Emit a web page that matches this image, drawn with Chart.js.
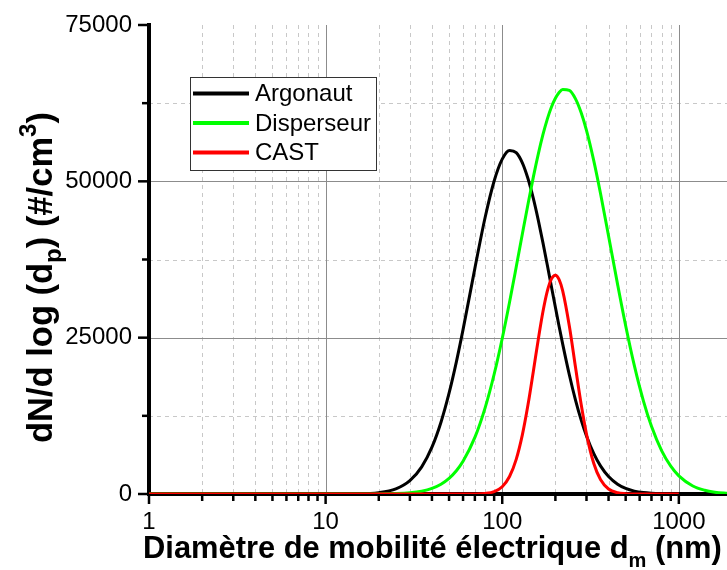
<!DOCTYPE html>
<html>
<head>
<meta charset="utf-8">
<script src="https://cdn.jsdelivr.net/npm/chart.js@4"></script>
<style>
  html, body { margin: 0; padding: 0; background: #fff; overflow: hidden; }
  canvas { display: block; }
</style>
</head>
<body>
<canvas id="chart-sizes" width="740" height="570"></canvas>
<script>
// particle diameters (nm) shared by the three size distributions
const diameters = [1, 5, 10, 15, 20, 25, 30, 35, 40, 45, 50, 55, 60, 70, 80, 90, 100, 110, 120, 130,
    140, 150, 160, 170, 180, 190, 200, 210, 220, 240, 260, 280, 300, 330, 360, 400, 450, 500, 560,
    630, 700, 800, 900, 1000, 1200, 1400, 1600, 1800, 2000];

// dN/dlog(dp) in #/cm3 (Argonaut and CAST stop at 1000 nm)
const argonaut = [0, 0, 0, 29, 213, 813, 2120, 4334, 7487, 11485, 16120, 21136, 26285, 36080, 44210,
    50056, 53554, 54940, 54600, 52963, 50408, 47260, 43790, 40200, 36610, 33140, 29865, 26796, 23964,
    19036, 15020, 11808, 9278, 6446, 4492, 2791, 1564, 890, 465, 225, 112, 44, 18, 8];
const disperseur = [0, 0, 0, 2, 15, 65, 193, 452, 895, 1569, 2505, 3724, 5230, 9046, 13783, 19148,
    24870, 30663, 36288, 41569, 46390, 50674, 54361, 57450, 59953, 61890, 63290, 64210, 64696, 64539,
    63183, 60957, 58145, 53266, 48082, 41265, 33521, 26911, 20522, 14904, 10822, 6895, 4447, 2902,
    1287, 603, 295, 151, 80];
const cast = [0, 0, 0, 0, 0, 0, 0, 0, 0, 0, 0, 0, 1, 14, 91, 381, 1164, 2793, 5541, 9450, 14294,
    19590, 24720, 29141, 32452, 34410, 35000, 34300, 32490, 26830, 20265, 14295, 9580, 4870, 2320,
    806, 201, 49, 9, 0, 0, 0, 0, 0];

// axis ticks
const xTickValues = [1, 10, 100, 1000];
const yTickValues = [0, 25000, 50000, 75000];
const yMinorValues = [12500, 37500, 62500];

const FONT = "Arial, 'Liberation Sans', sans-serif";

function toPoints(values) {
    return values.map((v, i) => ({ x: diameters[i], y: v }));
}

// minor x positions: 2..9 in every decade
function xMinorValues(max) {
    let out = [];
    for (let d = 1; d < max; d *= 10) {
        for (let m = 2; m <= 9; m++) {
            if (d * m <= max) out.push(d * m);
        }
    }
    return out;
}

function line(ctx, x1, y1, x2, y2) {
    ctx.beginPath();
    ctx.moveTo(x1, y1);
    ctx.lineTo(x2, y2);
    ctx.stroke();
}

// grid, axis lines and tick marks, under the curves
const gridAxes = {
    id: 'gridAxes',
    beforeDatasetsDraw(chart) {
        const { ctx, chartArea: a, scales: { x, y } } = chart;
        ctx.save();

        ctx.lineWidth = 1;
        ctx.strokeStyle = '#c8c8c8';
        ctx.setLineDash([4, 4]);
        xMinorValues(2000).forEach(v => {
            const px = Math.round(x.getPixelForValue(v)) + 0.5;
            line(ctx, px, a.top, px, a.bottom);
        });
        yMinorValues.forEach(v => {
            const py = Math.round(y.getPixelForValue(v)) + 0.5;
            line(ctx, a.left, py, a.right, py);
        });

        ctx.setLineDash([]);
        ctx.strokeStyle = '#8c8c8c';
        xTickValues.slice(1).forEach(v => {
            const px = Math.round(x.getPixelForValue(v)) + 0.5;
            line(ctx, px, a.top, px, a.bottom);
        });
        yTickValues.slice(1, -1).forEach(v => {
            const py = Math.round(y.getPixelForValue(v)) + 0.5;
            line(ctx, a.left, py, a.right, py);
        });

        // axis lines
        ctx.strokeStyle = '#000';
        ctx.lineWidth = 4;
        line(ctx, a.left, y.getPixelForValue(75000) - 2, a.left, a.bottom + 2);
        line(ctx, a.left - 2, a.bottom, a.right, a.bottom);

        // tick marks
        ctx.lineWidth = 2.5;
        yTickValues.forEach(v => {
            const py = y.getPixelForValue(v);
            line(ctx, a.left - 11, py, a.left, py);
        });
        yMinorValues.forEach(v => {
            const py = y.getPixelForValue(v);
            line(ctx, a.left - 7, py, a.left, py);
        });
        xTickValues.forEach(v => {
            const px = x.getPixelForValue(v);
            line(ctx, px, a.bottom, px, a.bottom + 10);
        });
        xMinorValues(2000).forEach(v => {
            const px = x.getPixelForValue(v);
            line(ctx, px, a.bottom, px, a.bottom + 7);
        });
        ctx.restore();
    }
};

// text with sub/superscripts, stretched to a given length
function richText(ctx, parts, size, length) {
    const measure = s => {
        let w = 0;
        parts.forEach(p => {
            ctx.font = `bold ${s * p.scale}px ${FONT}`;
            w += ctx.measureText(p.t).width;
        });
        return w;
    };
    const s = size * length / measure(size);
    let cx = 0;
    parts.forEach(p => {
        ctx.font = `bold ${s * p.scale}px ${FONT}`;
        ctx.fillText(p.t, cx, p.dy * s);
        cx += ctx.measureText(p.t).width;
    });
}

const titlesLegend = {
    id: 'titlesLegend',
    afterDatasetsDraw(chart) {
        const ctx = chart.ctx;
        ctx.save();

        // legend box
        ctx.fillStyle = '#fff';
        ctx.fillRect(190, 77, 186, 93);
        ctx.strokeStyle = '#333';
        ctx.lineWidth = 1;
        ctx.strokeRect(190.5, 77.5, 186, 93);
        ctx.font = `24px ${FONT}`;
        ctx.textBaseline = 'middle';
        chart.data.datasets.forEach((ds, i) => {
            const ly = 93.5 + i * 29.5;
            ctx.strokeStyle = ds.borderColor;
            ctx.lineWidth = 4;
            line(ctx, 193, ly, 249, ly);
            ctx.fillStyle = '#000';
            ctx.fillText(ds.label, 255, ly + 1);
        });

        // axis titles
        ctx.fillStyle = '#000';
        ctx.textBaseline = 'alphabetic';
        ctx.save();
        ctx.translate(143, 558);
        richText(ctx, [
            { t: 'Diamètre de mobilité électrique d', dy: 0, scale: 1 },
            { t: 'm', dy: 0.3, scale: 0.65 },
            { t: ' (nm)', dy: 0, scale: 1 }
        ], 30, 579);
        ctx.restore();

        ctx.save();
        ctx.translate(52, 443);
        ctx.rotate(-Math.PI / 2);
        richText(ctx, [
            { t: 'dN/d log (d', dy: 0, scale: 1 },
            { t: 'p', dy: 0.25, scale: 0.7 },
            { t: ') (#/cm', dy: 0, scale: 1 },
            { t: '3', dy: -0.45, scale: 0.7 },
            { t: ')', dy: 0, scale: 1 }
        ], 32, 331);
        ctx.restore();

        ctx.restore();
    }
};

let chartSizes = document.getElementById('chart-sizes').getContext('2d');

let sizesChart = new Chart(chartSizes, {
    type: 'line',
    data: {
        datasets: [{
            label: 'Argonaut',
            data: toPoints(argonaut),
            borderColor: '#000000',
            order: 3
        }, {
            label: 'Disperseur',
            data: toPoints(disperseur),
            borderColor: '#00ff00',
            order: 2
        }, {
            label: 'CAST',
            data: toPoints(cast),
            borderColor: '#ff0000',
            order: 1
        }]
    },
    options: {
        responsive: false,
        animation: false,
        devicePixelRatio: 1,
        layout: { padding: { left: 0, top: 25, right: 8, bottom: 0 } },
        elements: {
            line: { borderWidth: 3, cubicInterpolationMode: 'monotone', fill: false },
            point: { radius: 0 }
        },
        plugins: {
            legend: { display: false },
            tooltip: { enabled: false }
        },
        scales: {
            x: {
                type: 'logarithmic',
                min: 1,
                max: 2000,
                grid: { display: false, drawTicks: false },
                border: { display: false },
                ticks: {
                    autoSkip: false,
                    maxRotation: 0,
                    padding: 14,
                    color: '#000',
                    font: { family: FONT, size: 24 },
                    callback: v => String(v)
                },
                afterBuildTicks: scale => {
                    scale.ticks = xTickValues.map(v => ({ value: v }));
                },
                afterFit: scale => { scale.height = 76; }
            },
            y: {
                min: 0,
                max: 75000,
                grid: { display: false, drawTicks: false },
                border: { display: false },
                ticks: {
                    stepSize: 25000,
                    padding: 17,
                    color: '#000',
                    // small line height keeps the top label from pushing the plot down
                    font: { family: FONT, size: 24, lineHeight: 0.5 },
                    callback: v => String(v)
                },
                afterFit: scale => { scale.width = 149; }
            }
        }
    },
    plugins: [gridAxes, titlesLegend]
});
</script>
</body>
</html>
